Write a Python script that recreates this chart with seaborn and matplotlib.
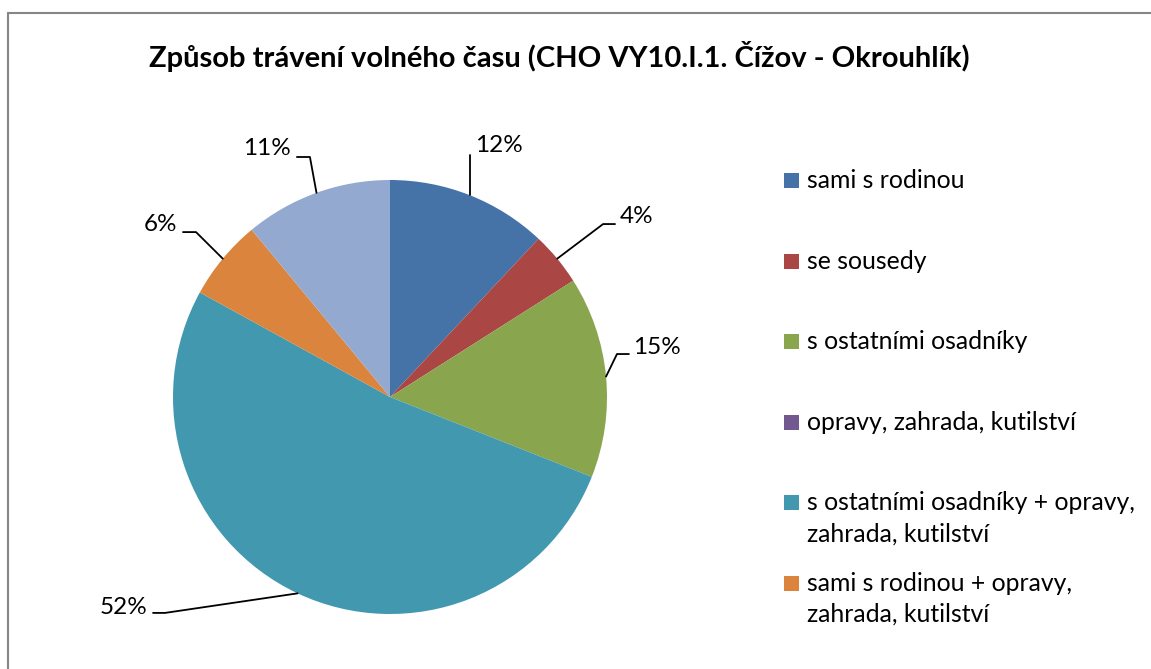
import numpy as np
import matplotlib
matplotlib.use('Agg')
import matplotlib.pyplot as plt
from matplotlib.lines import Line2D
from matplotlib.patches import Rectangle
import seaborn as sns

# --- data ---
categories = ['sami s rodinou', 'se sousedy', 's ostatními osadníky',
              'opravy, zahrada, kutilství',
              's ostatními osadníky + opravy,\nzahrada, kutilství',
              'sami s rodinou + opravy,\nzahrada, kutilství',
              'jiné']
shares = [12, 4, 15, 0, 52, 6, 11]
colors = ['#4572A7', '#AA4643', '#89A54E', '#71588F', '#4198AF', '#DB843D', '#93A9CF']
title = 'Způsob trávení volného času (CHO VY10.I.1. Čížov - Okrouhlík)'
n_legend = 6  # the last entry is cut off in the original

sns.set_style('white')
plt.rcParams['font.family'] = ['Lato', 'DejaVu Sans']

W, H = 1151, 669
fig = plt.figure(figsize=(W / 100, H / 100), dpi=100)

# pie centre and radius in pixels
cx, cy, r = 390, 397, 217
ax = fig.add_axes([(cx - r) / W, (H - cy - r) / H, 2 * r / W, 2 * r / H])
wedges, _ = ax.pie(shares, colors=colors, startangle=90, counterclock=False,
                   radius=1, wedgeprops=dict(linewidth=0))
ax.set_xlim(-1, 1)
ax.set_ylim(-1, 1)
ax.set_aspect('equal')
ax.axis('off')

# label layout (in radius units): text anchor, alignment, leader elbow, leader end
label_layout = {
    0: ((0.392, 1.161), 'left', None, None),
    1: ((1.060, 0.834), 'left', (0.982, 0.797), (1.037, 0.797)),
    2: ((1.120, 0.226), 'left', (1.046, 0.198), (1.101, 0.198)),
    4: ((-1.120, -0.968), 'right', (-1.037, -0.995), (-1.092, -0.995)),
    5: ((-0.982, 0.793), 'right', (-0.894, 0.760), (-0.954, 0.760)),
    6: ((-0.456, 1.143), 'right', (-0.369, 1.106), (-0.429, 1.106)),
}
total = sum(shares)
for i, w in enumerate(wedges):
    if shares[i] == 0:
        continue
    (tx, ty), ha, elbow, end = label_layout[i]
    mid = np.deg2rad((w.theta1 + w.theta2) / 2)
    ex, ey = np.cos(mid), np.sin(mid)
    if elbow is None:
        xs, ys = [ex, ex], [ey, ty - 0.046]
    else:
        xs, ys = [ex, elbow[0], end[0]], [ey, elbow[1], end[1]]
    ax.plot(xs, ys, color='black', lw=1.3, clip_on=False)
    ax.text(tx, ty, f'{shares[i] / total * 100:.0f}%', ha=ha, va='center',
            fontsize=17.5, color='black', clip_on=False)

# title
fig.text(559 / W, 1 - 57 / H, title, ha='center', va='center',
         fontsize=21, fontweight='bold', color='black')

# legend (entries spaced evenly like the original, marker on the first line)
leg_x, leg_y0, leg_step, msize, line_h = 784, 188, 80.6, 15, 31
for i in range(n_legend):
    y = leg_y0 + i * leg_step
    fig.add_artist(Rectangle((leg_x / W, 1 - y / H), msize / W, msize / H,
                             transform=fig.transFigure,
                             facecolor=wedges[i].get_facecolor(), edgecolor='none'))
    for k, line in enumerate(categories[i].split('\n')):
        fig.text((leg_x + 23) / W, 1 - (y + k * line_h) / H, line, ha='left',
                 va='baseline', fontsize=17.8, color='black')

# chart border
bc = '#868686'
fig.add_artist(Line2D([8 / W, 8 / W], [0, 1 - 13 / H], color=bc, lw=1.5,
                      transform=fig.transFigure))
fig.add_artist(Line2D([8 / W, 1], [1 - 13 / H, 1 - 13 / H], color=bc, lw=1.5,
                      transform=fig.transFigure))

fig.savefig('out.png', dpi=100, facecolor='white')
